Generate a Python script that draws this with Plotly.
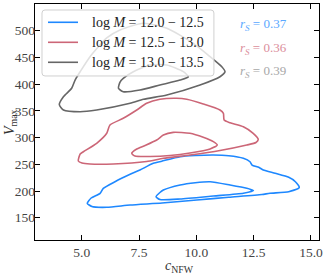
import plotly.graph_objects as go

# ---- data (c_NFW, V_max) contour paths ----
blue_outer_c = [5.24, 5.41, 5.80, 5.94, 6.45, 7.11, 7.54, 8.12, 8.49, 9.29, 9.95, 10.74, 11.41, 12.05, 12.34, 12.43,
                12.72, 12.92, 13.44, 14.03, 14.32, 14.49, 14.03, 13.21, 12.86, 11.41, 10.02, 8.50, 7.11, 6.09, 5.44, 5.24]
blue_outer_v = [177.0, 186.9, 195.7, 205.0, 217.4, 231.2, 239.3, 251.8, 255.8, 264.2, 266.4, 267.4, 266.0, 261.2, 254.8, 248.6,
                244.3, 239.3, 233.1, 225.6, 217.4, 206.5, 198.7, 195.7, 193.4, 188.2, 183.1, 177.5, 173.8, 169.5, 171.0, 177.0]
blue_inner_c = [8.24, 8.41, 8.56, 9.29, 9.95, 10.60, 11.47, 12.20, 12.49, 12.05, 10.74, 9.29, 8.41, 8.24]
blue_inner_v = [189.3, 197.2, 201.8, 211.2, 215.5, 217.4, 211.2, 205.0, 200.9, 195.7, 190.6, 185.0, 184.1, 189.3]

red_outer_c = [4.85, 4.93, 5.07, 5.65, 6.09, 6.23, 6.81, 7.40, 7.83, 8.41, 9.14, 9.58, 10.30, 11.03, 11.18, 11.21, 11.47,
               12.05, 12.48, 12.70, 12.60, 12.20, 11.03, 9.72, 8.56, 7.83, 6.38, 5.36, 5.01, 4.85]
red_outer_v = [256.1, 269.2, 273.5, 289.3, 308.0, 323.5, 336.1, 351.6, 364.1, 371.6, 373.5, 371.6, 362.8, 351.6, 345.4, 332.9, 327.8,
               320.3, 308.0, 296.7, 290.8, 286.1, 275.8, 267.4, 261.2, 255.2, 250.5, 250.5, 252.4, 256.1]
red_inner_c = [7.18, 7.40, 7.76, 8.27, 8.56, 8.99, 9.72, 10.30, 10.74, 10.91, 10.60, 9.72, 8.85, 7.98, 7.32, 7.18]
red_inner_v = [270.5, 278.6, 285.1, 295.4, 304.8, 309.8, 308.0, 300.5, 292.3, 286.1, 278.6, 271.1, 266.4, 264.6, 265.5, 270.5]

gray_outer_c = [4.02, 4.20, 4.56, 4.71, 4.93, 5.36, 6.09, 6.67, 7.69, 8.71, 9.87, 10.60, 11.11, 11.25, 11.03, 10.16,
                8.71, 7.69, 7.11, 5.65, 4.93, 4.20, 4.02]
gray_outer_v = [361.9, 376.5, 392.2, 407.7, 423.3, 451.4, 486.4, 501.3, 513.9, 504.5, 476.4, 451.4, 432.6, 423.3, 413.9, 398.4,
                379.7, 371.6, 364.1, 351.6, 348.4, 351.6, 361.9]
gray_inner_c = [6.60, 6.67, 6.81, 7.25, 7.98, 8.71, 9.43, 9.65, 9.29, 8.41, 7.54, 6.81, 6.60]
gray_inner_v = [392.2, 404.0, 410.9, 423.3, 435.8, 435.8, 423.3, 413.9, 407.7, 398.4, 389.0, 385.8, 392.2]

labels = ["log <i>M</i> = 12.0 − 12.5", "log <i>M</i> = 12.5 − 13.0", "log <i>M</i> = 13.0 − 13.5"]
rs_values = ["0.37", "0.36", "0.39"]
colors = ["#1E88FF", "#CC6677", "#666666"]
rs_colors = ["#5AA8FF", "#DB8E9B", "#A8A8A8"]

x_ticks = [5.0, 7.5, 10.0, 12.5, 15.0]
y_ticks = [150, 200, 250, 300, 350, 400, 450, 500, 550]

FONT = "Liberation Serif"

fig = go.Figure()
groups = [
    (blue_outer_c, blue_outer_v, blue_inner_c, blue_inner_v),
    (red_outer_c, red_outer_v, red_inner_c, red_inner_v),
    (gray_outer_c, gray_outer_v, gray_inner_c, gray_inner_v),
]
for i, (oc, ov, ic, iv) in enumerate(groups):
    fig.add_trace(go.Scatter(x=oc, y=ov, mode="lines", name=labels[i], showlegend=False,
                             line=dict(color=colors[i], width=1.6, shape="spline", smoothing=0.6)))
    fig.add_trace(go.Scatter(x=ic, y=iv, mode="lines", name=labels[i], showlegend=False,
                             line=dict(color=colors[i], width=1.6, shape="spline", smoothing=0.6)))

# ---- legend box (drawn manually to match row spacing) ----
x0, x1, y0, y1 = 0.0246, 0.630, 0.695, 0.9746
rx, ry = 0.0106, 0.0127
box_path = (f"M {x0+rx},{y0} L {x1-rx},{y0} Q {x1},{y0} {x1},{y0+ry} L {x1},{y1-ry} Q {x1},{y1} {x1-rx},{y1} "
            f"L {x0+rx},{y1} Q {x0},{y1} {x0},{y1-ry} L {x0},{y0+ry} Q {x0},{y0} {x0+rx},{y0} Z")
fig.add_shape(type="path", path=box_path, xref="paper", yref="paper", layer="above",
              fillcolor="rgba(255,255,255,0.8)", line=dict(color="#d0d0d0", width=1))
row_y = [0.9225, 0.8377, 0.7530]
for i in range(3):
    fig.add_shape(type="line", xref="paper", yref="paper", x0=0.0458, x1=0.1514, y0=row_y[i], y1=row_y[i],
                  layer="above", line=dict(color=colors[i], width=1.6))
    fig.add_annotation(x=0.1937, xref="paper", xanchor="left", y=row_y[i], yref="paper", yanchor="middle",
                       text=labels[i], showarrow=False, font=dict(family=FONT, size=14, color="#222"))

rs_y = [0.914, 0.812, 0.713]
for i, r in enumerate(rs_values):
    fig.add_annotation(x=0.715, xref="paper", xanchor="left", y=rs_y[i], yref="paper", yanchor="middle",
                       text=f"<i>r<sub>S</sub></i> = {r}", showarrow=False,
                       font=dict(family=FONT, size=13, color=rs_colors[i]))

# axis titles
fig.add_annotation(x=0.51, xref="paper", xanchor="center", y=-0.112, yref="paper", yanchor="middle",
                   text="<i>c</i><sub>NFW</sub>", showarrow=False, font=dict(family=FONT, size=14, color="#333"))
fig.add_annotation(x=-0.088, xref="paper", xanchor="center", y=0.5, yref="paper", yanchor="middle",
                   text="<i>V</i><sub>max</sub>", textangle=-90, showarrow=False,
                   font=dict(family=FONT, size=14, color="#333"))

axis_common = dict(showgrid=False, zeroline=False, showline=True, linecolor="black", linewidth=1.4,
                   mirror="ticks", ticks="inside", ticklen=5, tickwidth=1.2, tickcolor="black",
                   automargin=False,
                   tickfont=dict(family=FONT, size=13.5, color="#444"))
fig.update_xaxes(range=[2.96, 15.35], tickvals=x_ticks, ticktext=[f"{t:.1f}" for t in x_ticks], **axis_common)
fig.update_yaxes(range=[108.3, 550], tickvals=y_ticks, ticklabelstandoff=-4, **axis_common)

fig.update_layout(
    width=324, height=275,
    margin=dict(l=35, r=5, t=4, b=35, autoexpand=False),
    plot_bgcolor="white", paper_bgcolor="white",
    showlegend=False,
)

fig.write_html("out.html", config={"displayModeBar": False},
               post_script="document.body.style.margin='0';document.body.style.padding='0';")
